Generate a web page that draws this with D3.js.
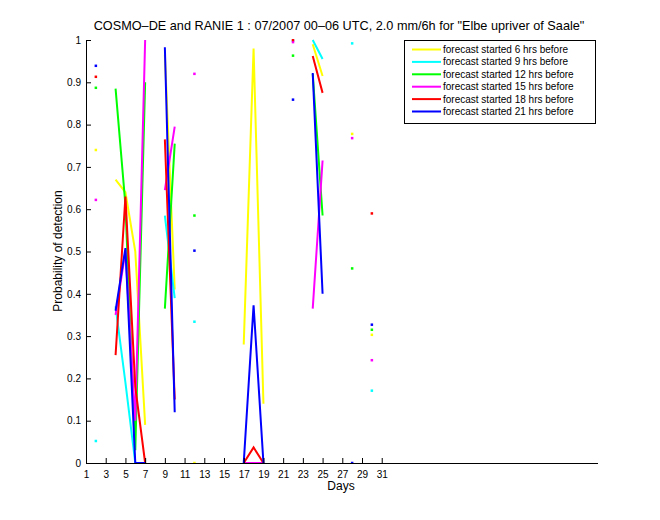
<!DOCTYPE html>
<html>
<head>
<meta charset="utf-8">
<script src="https://cdn.jsdelivr.net/npm/d3@7"></script>
<style>
  body { margin: 0; background: #fff; }
  text { font-family: "Liberation Sans", Arial, Helvetica, sans-serif; }
</style>
</head>
<body>
<svg id="chart" width="660" height="520"></svg>
<script>
// ---- data (day of month 1..31, null = no data) ----
const days = d3.range(1, 32);
const xTicks = [1,3,5,7,9,11,13,15,17,19,21,23,25,27,29,31];
const yTicks = [0,0.1,0.2,0.3,0.4,0.5,0.6,0.7,0.8,0.9,1];
const yTickLabels = ["0","0.1","0.2","0.3","0.4","0.5","0.6","0.7","0.8","0.9","1"];
const seriesNames = [
  "forecast started 6 hrs before",
  "forecast started 9 hrs before",
  "forecast started 12 hrs before",
  "forecast started 15 hrs before",
  "forecast started 18 hrs before",
  "forecast started 21 hrs before"
];
const seriesColors = ["#ffff00","#00ffff","#00ff00","#ff00ff","#ff0000","#0000ff"];
const N = null;
//              1     2     3     4      5      6     7     8     9      10    11   12     13 14 15 16 17    18     19    20 21  22     23  24     25     26 27  28     29  30     31
const yellow6  = [N, 0.740, N, 0.670, 0.640, 0.500, 0.090, N, 0.965, 0.410, N, 0.000, N, N, N, N, 0.280, 0.980, 0.140, N, N, N,     N, 0.990, 0.915, N, N, 0.778, N, 0.303, N];
const cyan9    = [N, 0.052, N, 0.370, 0.190, 0.000, N,     N, 0.585, 0.390, N, 0.334, N, N, N, N, N,     N,     N,     N, N, 0.998, N, 1.000, 0.955, N, N, 0.992, N, 0.171, N];
const green12  = [N, 0.887, N, 0.885, 0.610, 0.030, 0.900, N, 0.365, 0.755, N, 0.585, N, N, N, N, N,     N,     N,     N, N, 0.963, N, 0.920, 0.585, N, N, 0.460, N, 0.315, N];
const magenta15= [N, 0.622, N, 0.350, 0.500, 0.100, 1.000, N, 0.645, 0.795, N, 0.920, N, N, N, N, 0.000, 0.000, 0.000, N, N, 0.995, N, 0.365, 0.715, N, N, 0.768, N, 0.243, N];
const red18    = [N, 0.913, N, 0.255, 0.630, 0.180, 0.000, N, 0.765, 0.150, N, N,     N, N, N, N, 0.000, 0.037, 0.000, N, N, 1.000, N, 0.962, 0.875, N, N, N,     N, 0.590, N];
const blue21   = [N, 0.939, N, 0.360, 0.508, 0.000, 0.000, N, 0.983, 0.120, N, 0.502, N, N, N, N, 0.000, 0.373, 0.000, N, N, 0.859, N, 0.922, 0.400, N, N, 0.000, N, 0.327, N];
const seriesValues = [yellow6, cyan9, green12, magenta15, red18, blue21];

// ---- layout ----
const svg = d3.select("#chart");
const x = d3.scaleLinear().domain([1, 52.94]).range([86, 598]);
const y = d3.scaleLinear().domain([0, 1]).range([463, 40]);

// clip
svg.append("defs").append("clipPath").attr("id","clip")
  .append("rect").attr("x",86).attr("y",39).attr("width",512).attr("height",425);

// title
svg.append("text").attr("x", 339).attr("y", 30).attr("text-anchor","middle")
  .attr("font-size","12.7px").attr("fill","#000")
  .text("COSMO\u2013DE and RANIE 1 : 07/2007 00\u201306 UTC, 2.0 mm/6h for \"Elbe upriver of Saale\"");

// data
const plot = svg.append("g").attr("clip-path","url(#clip)");
const line = d3.line().defined(d => d.v !== null).x(d => x(d.day)).y(d => y(d.v));
seriesValues.forEach((vals, si) => {
  const pts = days.map((d, i) => ({day: d, v: vals[i]}));
  plot.append("path").datum(pts)
    .attr("d", line).attr("fill","none")
    .attr("stroke", seriesColors[si]).attr("stroke-width", 2)
    .attr("stroke-linejoin","miter");
  const iso = pts.filter((p, i) => p.v !== null &&
      (i === 0 || pts[i-1].v === null) && (i === pts.length-1 || pts[i+1].v === null));
  plot.selectAll(null).data(iso).enter().append("rect")
    .attr("x", p => x(p.day) - 1.25).attr("y", p => y(p.v) - 1.25)
    .attr("width", 2.5).attr("height", 2.5).attr("fill", seriesColors[si]);
});

// axes
const xAxis = d3.axisBottom(x).tickValues(xTicks).tickFormat(d3.format("d"))
  .tickSizeInner(-5).tickSizeOuter(0).tickPadding(8);
const gx = svg.append("g").attr("transform","translate(0,463)").call(xAxis);
gx.select(".domain").attr("d","M86,0.5H598").attr("stroke","#000");
gx.selectAll("text").attr("font-size","10px").attr("fill","#000").attr("font-family","Liberation Sans, Arial, sans-serif");

const yAxis = d3.axisLeft(y).tickValues(yTicks).tickFormat((d,i) => yTickLabels[i])
  .tickSizeInner(-5).tickSizeOuter(0).tickPadding(5);
const gy = svg.append("g").attr("transform","translate(86,0)").call(yAxis);
gy.select(".domain").attr("stroke","#000");
gy.selectAll("text").attr("font-size","10px").attr("fill","#000").attr("font-family","Liberation Sans, Arial, sans-serif");

// axis labels
svg.append("text").attr("x", 341).attr("y", 490).attr("text-anchor","middle")
  .attr("font-size","12px").text("Days");
svg.append("text").attr("transform","translate(62,251) rotate(-90)").attr("text-anchor","middle")
  .attr("font-size","12px").text("Probability of detection");

// legend
const lg = svg.append("g");
lg.append("rect").attr("x",404.5).attr("y",40.5).attr("width",191).attr("height",83)
  .attr("fill","#fff").attr("stroke","#000").attr("stroke-width",1);
seriesNames.forEach((name, i) => {
  const ry = 49.5 + i * 12.4;
  lg.append("line").attr("x1",412).attr("x2",441).attr("y1",ry).attr("y2",ry)
    .attr("stroke", seriesColors[i]).attr("stroke-width",2);
  lg.append("text").attr("x",443).attr("y",ry + 3.5).attr("font-size","10px").text(name);
});
</script>
</body>
</html>
